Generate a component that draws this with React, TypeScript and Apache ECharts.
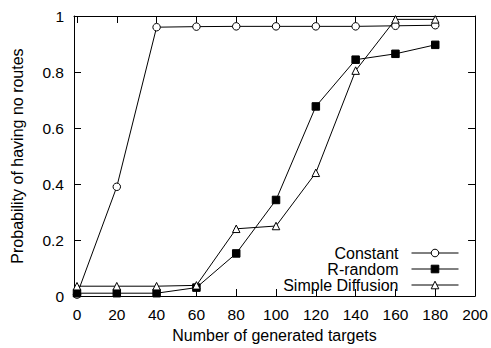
import React, { useEffect, useRef } from "react";
import * as echarts from "echarts";

const targets = [0, 20, 40, 60, 80, 100, 120, 140, 160, 180];
const constant = [0.005, 0.39, 0.96, 0.962, 0.963, 0.963, 0.963, 0.963, 0.965, 0.967];
const rRandom = [0.01, 0.01, 0.01, 0.03, 0.152, 0.343, 0.677, 0.844, 0.865, 0.897];
const simpleDiffusion = [0.035, 0.035, 0.035, 0.038, 0.24, 0.25, 0.44, 0.805, 0.988, 0.988];
const xTicks = [0, 20, 40, 60, 80, 100, 120, 140, 160, 180, 200];

const FONT = "'Liberation Sans', Arial, Helvetica, sans-serif";

export default function App() {
  const ref = useRef<HTMLDivElement>(null);
  useEffect(() => {
    const chart = echarts.init(ref.current!, null, { renderer: "svg" });
    const pairs = (ys: number[]) => targets.map((x, i) => [x, ys[i]]);
    const mkSeries = (name: string, ys: number[], symbol: string, fill: string) => ({
      name,
      type: "line",
      data: pairs(ys),
      symbol,
      symbolSize: 7.5,
      showSymbol: true,
      lineStyle: { color: "#000", width: 1 },
      itemStyle: { color: fill, borderColor: "#000", borderWidth: 1 },
      emphasis: { disabled: true },
    });
    const axisLine = { show: true, onZero: false, lineStyle: { color: "#000", width: 1 } };
    const tickStyle = { show: true, inside: true, length: 7, lineStyle: { color: "#000", width: 1 } };
    chart.setOption({
      animation: false,
      grid: { left: 74, right: 14, top: 16, bottom: 47, containLabel: false },
      xAxis: [
        {
          type: "value",
          position: "bottom",
          min: -1.5,
          max: 200,
          axisLine,
          axisTick: { ...tickStyle, customValues: xTicks },
          axisLabel: {
            customValues: xTicks,
            color: "#000",
            fontSize: 15.5,
            fontFamily: FONT,
            margin: 10,
            showMinLabel: true,
            showMaxLabel: true,
          },
          splitLine: { show: false },
          name: "Number of generated targets",
          nameLocation: "middle",
          nameGap: 31,
          nameTextStyle: { color: "#000", fontSize: 16, fontFamily: FONT },
        },
        {
          type: "value",
          position: "top",
          min: -1.5,
          max: 200,
          axisLine,
          axisTick: { ...tickStyle, customValues: xTicks },
          axisLabel: { show: false },
          splitLine: { show: false },
        },
      ],
      yAxis: [
        {
          type: "value",
          position: "left",
          min: 0,
          max: 1,
          interval: 0.2,
          axisLine,
          axisTick: tickStyle,
          axisLabel: { color: "#000", fontSize: 15.5, fontFamily: FONT, margin: 10 },
          splitLine: { show: false },
          name: "Probability of having no routes",
          nameLocation: "middle",
          nameGap: 49,
          nameTextStyle: { color: "#000", fontSize: 16, fontFamily: FONT },
        },
        {
          type: "value",
          position: "right",
          min: 0,
          max: 1,
          interval: 0.2,
          axisLine,
          axisTick: tickStyle,
          axisLabel: { show: false },
          splitLine: { show: false },
        },
      ],
      legend: {
        orient: "vertical",
        align: "right",
        right: 32,
        top: 245,
        padding: 0,
        itemWidth: 47,
        itemHeight: 9.5,
        itemGap: 0,
        selectedMode: false,
        lineStyle: { width: 1, color: "#000" },
        itemStyle: { borderWidth: 1, borderColor: "#000" },
        textStyle: {
          color: "#000",
          fontSize: 16,
          fontFamily: FONT,
          lineHeight: 16,
          padding: [0, 8, 0, 0],
        },
        data: ["Constant", "R-random", "Simple Diffusion"],
      },
      series: [
        mkSeries("Constant", constant, "circle", "#fff"),
        mkSeries("R-random", rRandom, "rect", "#000"),
        mkSeries("Simple Diffusion", simpleDiffusion, "triangle", "#fff"),
      ],
    });
    return () => chart.dispose();
  }, []);
  return <div ref={ref} style={{ width: 491, height: 348, position: "absolute", left: 0, top: 0 }} />;
}
